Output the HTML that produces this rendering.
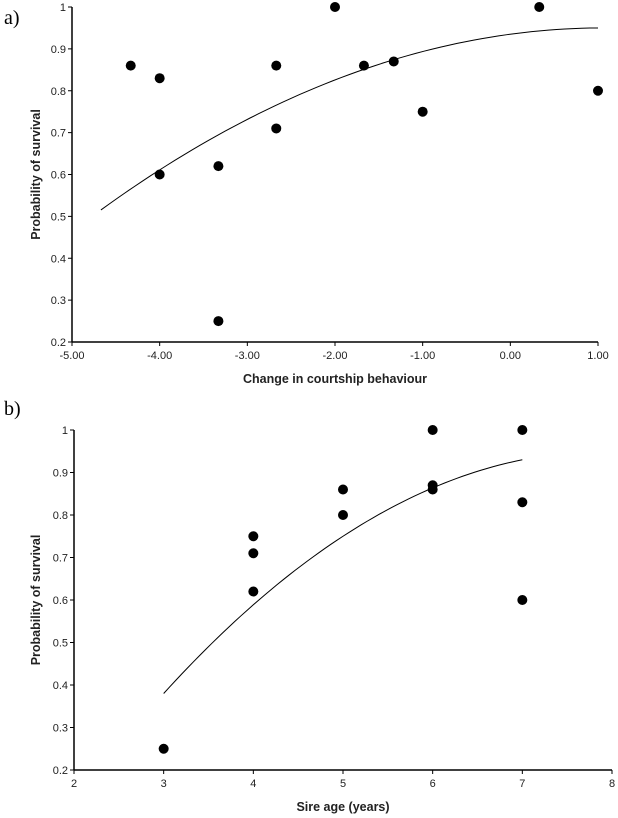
<!DOCTYPE html>
<html><head><meta charset="utf-8"><style>
html,body{margin:0;padding:0;background:#fff;}
svg{display:block;font-family:"Liberation Sans",Arial,sans-serif;}
</style></head><body>
<svg id="fig" width="618" height="818" viewBox="0 0 618 818">
<text x="4" y="24" font-family="Liberation Serif,serif" font-size="20">a)</text>
<text x="4" y="415" font-family="Liberation Serif,serif" font-size="20">b)</text>
<g id="chartA"></g>
<g id="chartB"></g>
</svg>
<script>
const aX=[-4.33,-4,-4,-3.33,-3.33,-2.67,-2.67,-2,-1.67,-1.33,-1,0.33,1];
const aY=[0.86,0.83,0.60,0.62,0.25,0.86,0.71,1.0,0.86,0.87,0.75,1.0,0.80];
const aXTicks=[-5,-4,-3,-2,-1,0,1];
const aXTickLabels=["-5.00","-4.00","-3.00","-2.00","-1.00","0.00","1.00"];
const aFit=[0.935,0.0282,-0.0132];
const aFitRange=[-4.67,1];
const bX=[3,4,4,4,5,5,6,6,6,7,7,7];
const bY=[0.25,0.75,0.71,0.62,0.86,0.80,1.0,0.87,0.86,1.0,0.83,0.60];
const bXTicks=[2,3,4,5,6,7,8];
const bXTickLabels=["2","3","4","5","6","7","8"];
const bFit=[0.75,0.1375,-0.02375];
const bFitCenter=5;
const bFitRange=[3,7];
const yTicks=[0.2,0.3,0.4,0.5,0.6,0.7,0.8,0.9,1];
const yTickLabels=["0.2","0.3","0.4","0.5","0.6","0.7","0.8","0.9","1"];
const NS="http://www.w3.org/2000/svg";
function mk(p,tag,at,txt){const e=document.createElementNS(NS,tag);for(const k in at)e.setAttribute(k,at[k]);if(txt!=null)e.textContent=txt;p.appendChild(e);return e;}
function draw(g,cfg){
  const sx=v=>cfg.x0+(v-cfg.xmin)/(cfg.xmax-cfg.xmin)*(cfg.x1-cfg.x0);
  const sy=v=>cfg.y0+(v-0.2)/(0.8)*(cfg.y1-cfg.y0);
  let e=mk(g,'line',{x1:cfg.x0,y1:cfg.y0,x2:cfg.x0,y2:cfg.y1,stroke:'#000','stroke-width':1.5});
  
  
  e=mk(g,'line',{x1:cfg.x0,y1:cfg.y0,x2:cfg.x1,y2:cfg.y0,stroke:'#000','stroke-width':1.5});
  
  
  yTicks.forEach((t,i)=>{const y=sy(t);
    mk(g,'line',{x1:cfg.x0-4,y1:y,x2:cfg.x0,y2:y,stroke:'#000'});
    const l=mk(g,'text',{x:cfg.x0-6,y:y+4,'text-anchor':'end','font-size':11,fill:'#222'},yTickLabels[i]);
    
    
  });
  cfg.xt.forEach((t,i)=>{const x=sx(t);
    mk(g,'line',{x1:x,y1:cfg.y0,x2:x,y2:cfg.y0+4,stroke:'#000'});
    const l=mk(g,'text',{x:x,y:cfg.y0+17,'text-anchor':'middle','font-size':11,fill:'#222'},cfg.xl[i]);
    
    
  });
  let t=mk(g,'text',{x:(cfg.x0+cfg.x1)/2,y:cfg.y0+41,'text-anchor':'middle','font-size':12.5,'font-weight':'bold',fill:'#222'},cfg.xtitle);
  
  
  const cy=(cfg.y0+cfg.y1)/2;
  t=mk(g,'text',{x:0,y:0,transform:`translate(40,${cy}) rotate(-90)`,'text-anchor':'middle','font-size':12.5,'font-weight':'bold',fill:'#222'},'Probability of survival');
  
  
  let d='';const n=60;
  for(let i=0;i<=n;i++){const xv=cfg.fr[0]+(cfg.fr[1]-cfg.fr[0])*i/n;const u=xv-cfg.fc;
    const yv=cfg.fit[0]+cfg.fit[1]*u+cfg.fit[2]*u*u;d+=(i?'L':'M')+sx(xv).toFixed(2)+','+sy(yv).toFixed(2);}
  e=mk(g,'path',{d:d,fill:'none',stroke:'#000','stroke-width':1});
  
  
  cfg.px.forEach((xv,i)=>{
    const c=mk(g,'circle',{cx:sx(xv),cy:sy(cfg.py[i]),r:5,fill:'#000'});
    
    
  });
}
draw(document.getElementById('chartA'),{x0:72,x1:598,y0:342,y1:7,xmin:-5,xmax:1,xt:aXTicks,xl:aXTickLabels,xtitle:'Change  in courtship  behaviour',fit:aFit,fc:0,fr:aFitRange,px:aX,py:aY});
draw(document.getElementById('chartB'),{x0:74,x1:612,y0:770,y1:430,xmin:2,xmax:8,xt:bXTicks,xl:bXTickLabels,xtitle:'Sire age (years)',fit:bFit,fc:bFitCenter,fr:bFitRange,px:bX,py:bY});
</script>
</body></html>
